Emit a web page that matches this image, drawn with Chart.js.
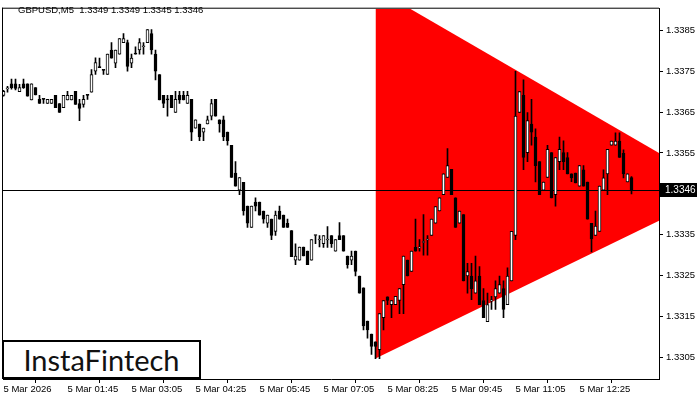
<!DOCTYPE html>
<html lang="en">
<head>
  <meta charset="UTF-8">
  <title>GBPUSD M5</title>
  <script src="https://cdn.jsdelivr.net/npm/chart.js"></script>
  <style>
    body {
      margin: 0;
      background: #fff;
    }
    #wrap {
      position: relative;
      width: 700px;
      height: 400px;
    }
    #logo {
      position: absolute;
      left: 2px;
      top: 340px;
      width: 195px;
      height: 35px;
      border: 2px solid #000;
      background: #fff;
      color: #111;
      font-family: Lato, "Open Sans", sans-serif;
      font-size: 29px;
      line-height: 35px;
      text-align: center;
    }
  </style>
</head>
<body>
  <div id="wrap">
    <canvas id="chart" width="700" height="400"></canvas>
    <div id="logo">InstaFintech</div>
  </div>

  <script>
    // GBPUSD M5 candles, one entry per bar
    const opens = [
      1.33691, 1.33707, 1.33719, 1.33719, 1.33700, 1.33719, 1.33719, 1.33680, 1.33710, 1.33681,
      1.33681, 1.33671, 1.33671, 1.33691, 1.33671, 1.33661, 1.33680, 1.33680, 1.33701, 1.33671,
      1.33669, 1.33691, 1.33699, 1.33750, 1.33759, 1.33752, 1.33742, 1.33802, 1.33770, 1.33792,
      1.33820, 1.33820, 1.33770, 1.33792, 1.33802, 1.33810, 1.33820, 1.33842, 1.33792, 1.33742,
      1.33691, 1.33682, 1.33691, 1.33649, 1.33691, 1.33691, 1.33671, 1.33681, 1.33611, 1.33621,
      1.33601, 1.33621, 1.33640, 1.33681, 1.33631, 1.33631, 1.33601, 1.33569, 1.33501, 1.33459,
      1.33478, 1.33420, 1.33368, 1.33430, 1.33430, 1.33408, 1.33378, 1.33388, 1.33358, 1.33408,
      1.33398, 1.33378, 1.33360, 1.33288, 1.33288, 1.33320, 1.33310, 1.33288, 1.33348, 1.33337,
      1.33328, 1.33337, 1.33348, 1.33310, 1.33348, 1.33348, 1.33298, 1.33288, 1.33310, 1.33249,
      1.33220, 1.33139, 1.33107, 1.33088, 1.33069, 1.33147, 1.33198, 1.33179, 1.33179, 1.33189,
      1.33228, 1.33288, 1.33260, 1.33319, 1.33318, 1.33331, 1.33337, 1.33348, 1.33378, 1.33408,
      1.33448, 1.33490, 1.33510, 1.33440, 1.33378, 1.33399, 1.33249, 1.33249, 1.33207, 1.33249,
      1.33189, 1.33137, 1.33188, 1.33198, 1.33207, 1.33218, 1.33179, 1.33237, 1.33348, 1.33649,
      1.33691, 1.33551, 1.33621, 1.33589, 1.33529, 1.33459, 1.33490, 1.33551, 1.33448, 1.33529,
      1.33551, 1.33539, 1.33499, 1.33501, 1.33469, 1.33509, 1.33479, 1.33378, 1.33348, 1.33358,
      1.33459, 1.33499, 1.33569, 1.33569, 1.33579, 1.33549, 1.33479, 1.33490
    ];
    const highs = [
      1.33703, 1.33713, 1.33731, 1.33731, 1.33718, 1.33731, 1.33719, 1.33719, 1.33710, 1.33691,
      1.33681, 1.33681, 1.33681, 1.33691, 1.33671, 1.33691, 1.33701, 1.33691, 1.33701, 1.33681,
      1.33691, 1.33691, 1.33754, 1.33783, 1.33782, 1.33752, 1.33792, 1.33820, 1.33802, 1.33830,
      1.33842, 1.33826, 1.33792, 1.33810, 1.33830, 1.33820, 1.33852, 1.33852, 1.33802, 1.33742,
      1.33691, 1.33691, 1.33691, 1.33701, 1.33701, 1.33701, 1.33701, 1.33681, 1.33631, 1.33621,
      1.33611, 1.33640, 1.33681, 1.33681, 1.33631, 1.33640, 1.33601, 1.33569, 1.33529, 1.33490,
      1.33478, 1.33420, 1.33420, 1.33440, 1.33430, 1.33408, 1.33398, 1.33388, 1.33408, 1.33420,
      1.33398, 1.33388, 1.33360, 1.33328, 1.33320, 1.33320, 1.33310, 1.33338, 1.33348, 1.33348,
      1.33348, 1.33370, 1.33348, 1.33338, 1.33380, 1.33348, 1.33298, 1.33310, 1.33310, 1.33249,
      1.33220, 1.33139, 1.33107, 1.33088, 1.33157, 1.33189, 1.33198, 1.33189, 1.33199, 1.33218,
      1.33298, 1.33288, 1.33310, 1.33388, 1.33338, 1.33399, 1.33348, 1.33388, 1.33419, 1.33440,
      1.33499, 1.33561, 1.33510, 1.33440, 1.33408, 1.33399, 1.33280, 1.33280, 1.33298, 1.33272,
      1.33218, 1.33207, 1.33199, 1.33237, 1.33249, 1.33237, 1.33269, 1.33358, 1.33750, 1.33700,
      1.33729, 1.33649, 1.33681, 1.33609, 1.33529, 1.33479, 1.33569, 1.33551, 1.33539, 1.33589,
      1.33580, 1.33551, 1.33499, 1.33501, 1.33519, 1.33519, 1.33479, 1.33378, 1.33408, 1.33469,
      1.33509, 1.33559, 1.33579, 1.33599, 1.33599, 1.33558, 1.33499, 1.33492
    ];
    const lows = [
      1.33689, 1.33699, 1.33706, 1.33704, 1.33700, 1.33708, 1.33689, 1.33680, 1.33692, 1.33671,
      1.33671, 1.33671, 1.33671, 1.33661, 1.33649, 1.33661, 1.33680, 1.33680, 1.33669, 1.33629,
      1.33662, 1.33681, 1.33699, 1.33742, 1.33759, 1.33742, 1.33742, 1.33782, 1.33759, 1.33792,
      1.33820, 1.33750, 1.33759, 1.33792, 1.33792, 1.33792, 1.33820, 1.33792, 1.33729, 1.33680,
      1.33661, 1.33640, 1.33661, 1.33649, 1.33671, 1.33680, 1.33671, 1.33580, 1.33611, 1.33580,
      1.33580, 1.33621, 1.33631, 1.33640, 1.33601, 1.33580, 1.33569, 1.33490, 1.33469, 1.33448,
      1.33398, 1.33368, 1.33368, 1.33408, 1.33398, 1.33378, 1.33368, 1.33338, 1.33348, 1.33388,
      1.33368, 1.33368, 1.33296, 1.33277, 1.33288, 1.33298, 1.33277, 1.33288, 1.33328, 1.33320,
      1.33319, 1.33319, 1.33319, 1.33310, 1.33338, 1.33310, 1.33268, 1.33277, 1.33249, 1.33207,
      1.33117, 1.33097, 1.33057, 1.33047, 1.33047, 1.33117, 1.33179, 1.33147, 1.33179, 1.33157,
      1.33157, 1.33249, 1.33260, 1.33310, 1.33310, 1.33300, 1.33300, 1.33348, 1.33378, 1.33408,
      1.33448, 1.33490, 1.33448, 1.33368, 1.33378, 1.33237, 1.33207, 1.33191, 1.33207, 1.33179,
      1.33147, 1.33137, 1.33167, 1.33167, 1.33207, 1.33147, 1.33179, 1.33237, 1.33338, 1.33649,
      1.33509, 1.33529, 1.33569, 1.33479, 1.33448, 1.33459, 1.33490, 1.33440, 1.33420, 1.33509,
      1.33509, 1.33499, 1.33480, 1.33477, 1.33469, 1.33469, 1.33388, 1.33308, 1.33348, 1.33358,
      1.33459, 1.33448, 1.33569, 1.33569, 1.33539, 1.33489, 1.33479, 1.33450
    ];
    const closes = [
      1.33701, 1.33709, 1.33710, 1.33708, 1.33710, 1.33710, 1.33689, 1.33719, 1.33692, 1.33671,
      1.33681, 1.33681, 1.33681, 1.33661, 1.33649, 1.33691, 1.33691, 1.33691, 1.33669, 1.33659,
      1.33681, 1.33691, 1.33742, 1.33771, 1.33759, 1.33752, 1.33792, 1.33782, 1.33802, 1.33830,
      1.33830, 1.33762, 1.33782, 1.33792, 1.33820, 1.33812, 1.33852, 1.33802, 1.33750, 1.33680,
      1.33671, 1.33680, 1.33661, 1.33681, 1.33680, 1.33680, 1.33691, 1.33601, 1.33631, 1.33589,
      1.33611, 1.33631, 1.33671, 1.33640, 1.33621, 1.33589, 1.33580, 1.33490, 1.33469, 1.33490,
      1.33408, 1.33378, 1.33420, 1.33420, 1.33398, 1.33388, 1.33398, 1.33348, 1.33398, 1.33388,
      1.33368, 1.33368, 1.33296, 1.33298, 1.33320, 1.33298, 1.33277, 1.33338, 1.33348, 1.33339,
      1.33348, 1.33339, 1.33328, 1.33338, 1.33338, 1.33310, 1.33277, 1.33298, 1.33260, 1.33207,
      1.33127, 1.33117, 1.33077, 1.33077, 1.33157, 1.33189, 1.33189, 1.33189, 1.33199, 1.33218,
      1.33298, 1.33249, 1.33310, 1.33310, 1.33320, 1.33333, 1.33339, 1.33388, 1.33419, 1.33440,
      1.33499, 1.33519, 1.33448, 1.33368, 1.33408, 1.33237, 1.33260, 1.33218, 1.33237, 1.33179,
      1.33147, 1.33179, 1.33190, 1.33218, 1.33228, 1.33167, 1.33249, 1.33358, 1.33640, 1.33700,
      1.33539, 1.33629, 1.33601, 1.33519, 1.33448, 1.33479, 1.33559, 1.33440, 1.33539, 1.33559,
      1.33529, 1.33499, 1.33489, 1.33477, 1.33519, 1.33469, 1.33388, 1.33340, 1.33371, 1.33469,
      1.33489, 1.33559, 1.33579, 1.33579, 1.33539, 1.33499, 1.33499, 1.33460
    ];

    // bottom axis: bar index of each label and its text
    const tickBars = [0, 16, 32, 48, 64, 80, 96, 112, 128, 144];
    const timeLabels = [
      "5 Mar 2026", "5 Mar 01:45", "5 Mar 03:05", "5 Mar 04:25", "5 Mar 05:45",
      "5 Mar 07:05", "5 Mar 08:25", "5 Mar 09:45", "5 Mar 11:05", "5 Mar 12:25"
    ];
    const priceTicks = [1.3305, 1.3315, 1.3325, 1.3335, 1.3345, 1.3355, 1.3365, 1.3375, 1.3385];

    // symmetrical triangle: left and right ends of both borders
    const triangleBars = [93, 164];
    const triangleUpper = [1.33952, 1.33549];
    const triangleLower = [1.33047, 1.33385];

    const lastPrice = 1.3346;
    const header = "GBPUSD,M5  1.3349 1.3349 1.3345 1.3346";

    const FONT = "Liberation Sans";
    Chart.defaults.font.family = FONT;
    Chart.defaults.font.size = 9.5;
    Chart.defaults.color = "#000";

    const bodyData = opens.map((o, i) => ({ x: i, y: [o, closes[i]] }));
    const wickData = lows.map((l, i) => ({ x: i, y: [l, highs[i]] }));
    const bodyColors = opens.map((o, i) => closes[i] > o ? "#ffffff" : "#000000");

    // frame, bid line, price marker and header text
    const extras = {
      id: "extras",
      afterDatasetDraw(chart, args) {
        if (args.index !== 3) return;
        const { ctx, chartArea } = chart;
        const y = Math.round(chart.scales.y.getPixelForValue(lastPrice)) + 0.5;
        ctx.save();
        ctx.strokeStyle = "#000";
        ctx.lineWidth = 1;
        ctx.beginPath();
        ctx.moveTo(chartArea.left, y);
        ctx.lineTo(chartArea.right, y);
        ctx.stroke();
        ctx.restore();
      },
      afterDraw(chart) {
        const { ctx, chartArea } = chart;
        ctx.save();
        ctx.fillStyle = "#000";
        ctx.fillRect(chartArea.left - 1, chartArea.top - 1, chartArea.right - chartArea.left + 1, 1);
        ctx.fillRect(chartArea.left - 1, chartArea.top - 1, 1, chartArea.bottom - chartArea.top + 1);

        const y = Math.round(chart.scales.y.getPixelForValue(lastPrice));
        ctx.fillRect(chartArea.right + 1, y - 7, 37, 14);
        ctx.fillStyle = "#fff";
        ctx.font = "10px " + FONT;
        ctx.textBaseline = "middle";
        ctx.fillText(lastPrice.toFixed(4), chartArea.right + 6, y + 0.5);

        ctx.fillStyle = "#000";
        ctx.font = "9.5px " + FONT;
        ctx.fillText(header, 18, 10);
        ctx.restore();
      }
    };

    new Chart(document.getElementById("chart"), {
      type: "bar",
      data: {
        datasets: [
          {
            data: bodyData,
            backgroundColor: bodyColors,
            borderColor: "#000",
            borderWidth: 1,
            borderSkipped: false,
            barThickness: 3,
            minBarLength: 1,
            grouped: false,
            order: 1
          },
          {
            data: wickData,
            backgroundColor: "#000",
            borderWidth: 0,
            barThickness: 1,
            grouped: false,
            order: 2
          },
          {
            type: "line",
            data: triangleBars.map((b, i) => ({ x: b, y: triangleUpper[i] })),
            borderColor: "#ff0000",
            borderWidth: 0,
            pointRadius: 0,
            fill: false,
            order: 5
          },
          {
            type: "line",
            data: triangleBars.map((b, i) => ({ x: b, y: triangleLower[i] })),
            borderColor: "#ff0000",
            backgroundColor: "#ff0000",
            borderWidth: 0,
            pointRadius: 0,
            fill: "-1",
            order: 4
          }
        ]
      },
      options: {
        responsive: false,
        animation: false,
        layout: { padding: { left: 3, top: 3, right: 0, bottom: 0 } },
        plugins: {
          legend: { display: false },
          tooltip: { enabled: false }
        },
        scales: {
          x: {
            type: "linear",
            min: -0.125,
            max: 163.875,
            offset: false,
            afterBuildTicks: s => { s.ticks = tickBars.map(v => ({ value: v })); },
            afterFit: s => { s.height = 21; },
            grid: { drawOnChartArea: false, tickLength: 4, color: "#000" },
            border: { display: true, color: "#000" },
            ticks: {
              autoSkip: false,
              maxRotation: 0,
              align: "start",
              padding: 1,
              callback: (v, i) => timeLabels[i]
            }
          },
          y: {
            position: "right",
            min: 1.32997,
            max: 1.33903,
            afterBuildTicks: s => { s.ticks = priceTicks.map(v => ({ value: v })); },
            afterFit: s => { s.width = 41; },
            grid: { drawOnChartArea: false, tickLength: 4, color: "#000" },
            border: { display: true, color: "#000" },
            ticks: {
              padding: 3,
              callback: v => v.toFixed(4)
            }
          }
        }
      },
      plugins: [extras]
    });
  </script>
</body>
</html>
